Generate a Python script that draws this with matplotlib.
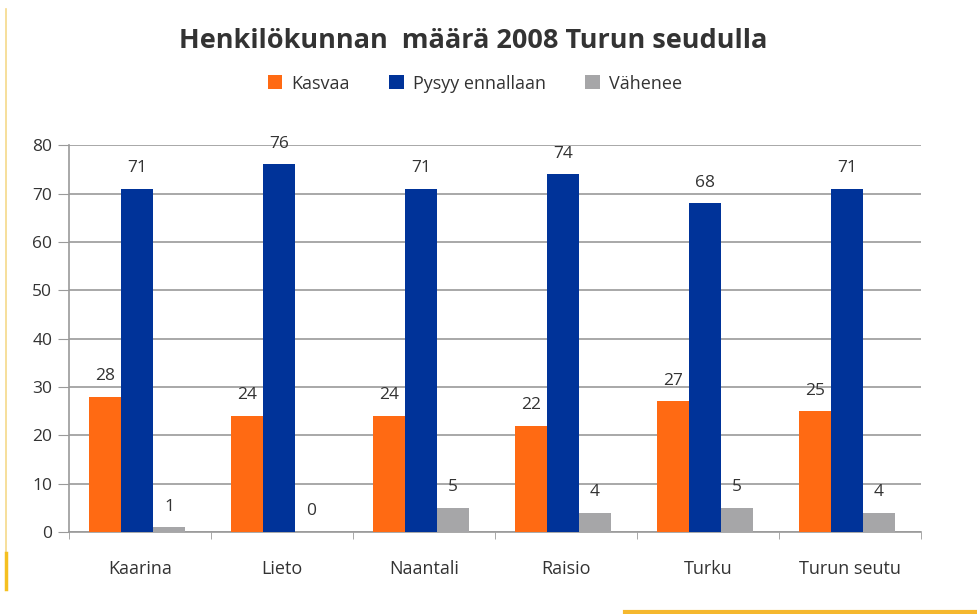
import numpy as np
import matplotlib.pyplot as plt
from matplotlib.lines import Line2D

categories = ['Kaarina', 'Lieto', 'Naantali', 'Raisio', 'Turku', 'Turun seutu']
kasvaa = [28, 24, 24, 22, 27, 25]
pysyy = [71, 76, 71, 74, 68, 71]
vahenee = [1, 0, 5, 4, 5, 4]
series_names = ['Kasvaa', 'Pysyy ennallaan', 'Vähenee']
colors = ['#FF6A13', '#003399', '#A6A6A8']

plt.rcParams['font.family'] = ['Open Sans', 'DejaVu Sans']

fig = plt.figure(figsize=(9.77, 6.14), dpi=100)
ax = fig.add_axes([0.0706, 0.1336, 0.872, 0.630])

x = np.arange(len(categories))
w = 0.225
for i, (vals, name, c) in enumerate(zip([kasvaa, pysyy, vahenee], series_names, colors)):
    pos = x + (i - 1) * w - 0.02
    ax.bar(pos, vals, width=w, color=c, label=name, zorder=3)
    for p, v in zip(pos, vals):
        ax.text(p, v + 2.6, str(v), ha='center', va='bottom', fontsize=12.5, color='#333333', zorder=4)

ax.set_xlim(-0.5, len(categories) - 0.5)
ax.set_ylim(0, 80)
ax.set_yticks(range(0, 81, 10))
ax.yaxis.grid(True, color='#9A9A9A', linewidth=1.2, zorder=0)
ax.set_xticks(x)
ax.set_xticklabels(categories)
ax.set_xticks(np.arange(-0.5, len(categories), 1), minor=True)
ax.tick_params(axis='x', which='major', length=0, pad=20, labelsize=13, labelcolor='#333333')
ax.tick_params(axis='x', which='minor', length=5, color='#9A9A9A')
ax.tick_params(axis='y', length=8, color='#9A9A9A', labelsize=12.5, labelcolor='#333333', pad=4)
for s in ['top', 'right']:
    ax.spines[s].set_visible(False)
for s in ['left', 'bottom']:
    ax.spines[s].set_color('#9A9A9A')
    ax.spines[s].set_linewidth(1.2)

fig.text(0.484, 0.933, 'Henkilökunnan  määrä 2008 Turun seudulla', ha='center', va='center',
         fontsize=19.5, fontweight='bold', color='#333333')
fig.legend(loc='center', bbox_to_anchor=(0.486, 0.864), ncol=3, frameon=False, fontsize=13,
           handlelength=0.8, handleheight=0.8, columnspacing=2.2, handletextpad=0.5,
           labelcolor='#333333')

# decorative yellow border lines
fig.add_artist(Line2D([0.0065, 0.0065], [0.04, 0.985], color='#F5D98A', linewidth=1.2))
fig.add_artist(Line2D([0.0065, 0.0065], [0.04, 0.1], color='#F5C020', linewidth=2.5))
fig.add_artist(Line2D([0.64, 1.0], [0.003, 0.003], color='#F5B82E', linewidth=3))

fig.savefig('out.png', dpi=100)
